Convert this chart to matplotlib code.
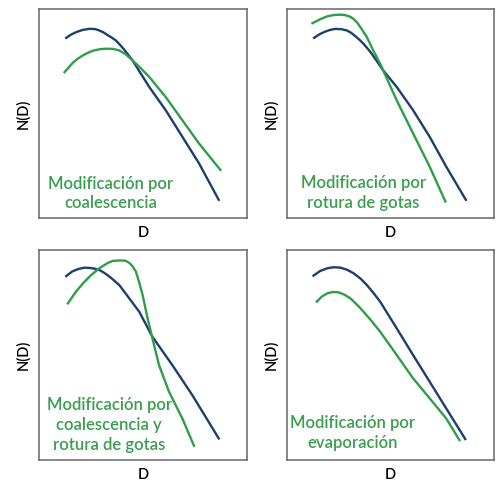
import matplotlib
matplotlib.use("Agg")
import matplotlib.pyplot as plt

# curves (x: D, y: N(D), arbitrary units 0-100)
p1_blue_x = [13.1, 15.5, 18.0, 21.0, 24.2, 27.0, 29.0, 31.0, 33.0, 35.0, 37.0, 39.0, 41.0, 45.0, 49.0, 53.0, 60.9, 68.9, 76.9, 86.4]
p1_blue_y = [86.2, 87.8, 89.0, 90.0, 90.5, 90.4, 89.7, 88.8, 87.5, 86.3, 84.9, 82.8, 80.5, 75.4, 69.0, 62.7, 51.6, 38.9, 26.2, 8.7]
p1_green_x = [12.3, 14.5, 16.5, 18.8, 21.1, 23.8, 26.5, 29.5, 32.2, 35.5, 38.6, 41.8, 45.0, 49.0, 53.0, 60.9, 68.9, 76.9, 87.2]
p1_green_y = [69.8, 72.3, 74.5, 76.3, 77.8, 79.2, 80.2, 80.8, 81.0, 80.9, 80.2, 78.2, 75.4, 71.6, 67.5, 57.9, 46.8, 35.7, 23.0]

p2_blue_x = [13.1, 15.5, 18.0, 20.8, 23.5, 26.5, 29.0, 31.0, 33.0, 35.0, 37.0, 39.0, 41.0, 46.5, 53.0, 60.9, 68.9, 76.9, 86.4]
p2_blue_y = [86.2, 87.8, 89.0, 90.0, 90.5, 90.3, 89.7, 88.6, 87.0, 85.3, 83.3, 81.0, 78.5, 70.6, 62.7, 51.6, 38.9, 24.6, 8.7]
p2_green_x = [12.3, 15.8, 19.5, 22.5, 25.8, 28.5, 30.5, 32.2, 34.0, 36.0, 38.6, 41.5, 45.0, 53.0, 60.9, 68.9, 76.5]
p2_green_y = [93.2, 95.0, 96.5, 97.1, 97.3, 97.0, 96.3, 95.2, 93.4, 90.5, 86.5, 80.5, 73.8, 56.3, 40.5, 24.6, 7.9]

p3_blue_x = [13.1, 16.0, 19.1, 22.0, 25.0, 27.3, 29.4, 32.0, 34.8, 38.6, 43.0, 48.2, 54.5, 64.1, 73.7, 86.4]
p3_blue_y = [87.6, 89.8, 91.0, 91.6, 91.4, 91.0, 90.3, 88.7, 86.6, 83.3, 77.5, 70.6, 58.7, 45.2, 30.9, 10.3]
p3_green_x = [13.9, 17.5, 21.1, 25.0, 29.0, 33.0, 35.5, 37.0, 39.0, 40.5, 41.8, 43.5, 45.0, 46.6, 48.2, 49.8, 52.2, 54.5, 57.7, 62.5, 68.9, 74.5]
p3_green_y = [74.6, 79.8, 84.1, 88.0, 91.3, 93.8, 94.8, 94.9, 95.0, 95.0, 94.8, 93.8, 92.2, 89.7, 84.5, 78.6, 67.5, 58.0, 45.2, 32.5, 19.8, 6.8]

p4_blue_x = [12.8, 16.0, 19.5, 22.5, 25.8, 29.0, 32.2, 35.5, 38.6, 41.8, 45.0, 53.0, 60.9, 68.9, 76.9, 86.1]
p4_blue_y = [87.8, 90.0, 91.3, 91.8, 91.6, 90.6, 88.9, 86.4, 83.3, 79.5, 75.4, 62.7, 50.0, 37.3, 24.6, 10.0]
p4_green_x = [14.4, 16.8, 19.5, 22.2, 25.0, 27.8, 30.6, 33.8, 37.0, 41.0, 45.0, 53.0, 60.9, 68.9, 76.9, 83.3]
p4_green_y = [75.4, 77.8, 79.4, 80.0, 79.8, 78.7, 77.0, 74.0, 70.6, 66.0, 61.1, 50.0, 38.9, 29.4, 19.8, 9.5]

labels = ["Modificación por\ncoalescencia",
          "Modificación por\nrotura de gotas",
          "Modificación por\ncoalescencia y\nrotura de gotas",
          "Modificación por\nevaporación"]

blue = "#1c3f6e"
green = "#2e9e48"
text_green = "#3a9e50"

W, H = 496, 484
fig = plt.figure(figsize=(W / 100, H / 100), dpi=100)

boxes = [(39, 9, 247, 218), (287, 9, 494, 218), (39, 250, 247, 460), (287, 250, 494, 460)]
series = [(p1_blue_x, p1_blue_y, p1_green_x, p1_green_y),
          (p2_blue_x, p2_blue_y, p2_green_x, p2_green_y),
          (p3_blue_x, p3_blue_y, p3_green_x, p3_green_y),
          (p4_blue_x, p4_blue_y, p4_green_x, p4_green_y)]
text_pos = [(34.4, 11.7), (36.8, 11.9), (33.8, 16.7), (31.5, 12.7)]

for box, (bx, by, gx, gy), lab, tp in zip(boxes, series, labels, text_pos):
    x0, y0, x1, y1 = box
    ax = fig.add_axes([x0 / W, 1 - y1 / H, (x1 - x0) / W, (y1 - y0) / H])
    ax.plot(bx, by, color=blue, lw=1.7, solid_joinstyle="round")
    ax.plot(gx, gy, color=green, lw=1.7, solid_joinstyle="round")
    ax.set_xlim(0, 100)
    ax.set_ylim(0, 100)
    ax.set_xticks([])
    ax.set_yticks([])
    for s in ax.spines.values():
        s.set_color("#666666")
        s.set_linewidth(1.1)
    ax.text(tp[0], tp[1], lab, ha="center", va="center", color=text_green,
            fontsize=12, family="Lato", fontweight="semibold", linespacing=1.3)
    ax.set_xlabel("D", fontsize=10.5, labelpad=6, family="Lato", fontweight="semibold")
    ax.set_ylabel("N(D)", fontsize=10.5, labelpad=6, family="Lato", fontweight="semibold")

fig.savefig("out.png", dpi=100)
